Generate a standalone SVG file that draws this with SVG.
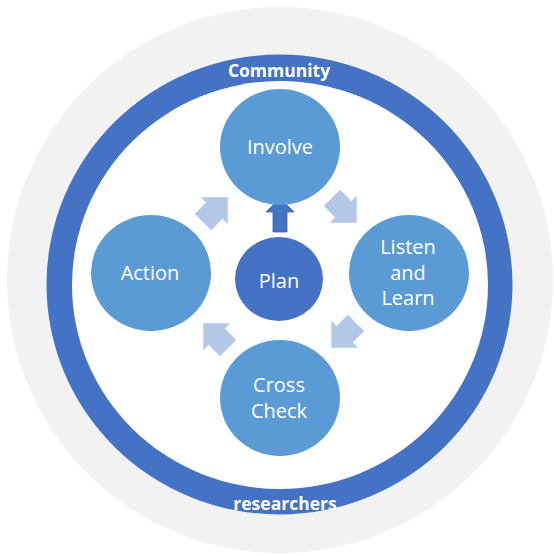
<svg xmlns="http://www.w3.org/2000/svg" width="554" height="556" viewBox="0 0 554 556">
<defs>
<style>
.node{fill:#5B9BD5}
.center{fill:#4472C4}
.lbl{font-family:"Open Sans","Liberation Sans",sans-serif;font-size:20px;fill:#FFFFFF;text-anchor:middle}
.ring{font-family:"Open Sans","Liberation Sans",sans-serif;font-weight:bold;font-size:17.5px;fill:#FFFFFF;text-anchor:middle}
.cyc{fill:#B4C7E7}
</style>
<path id="arr" d="M-17,-11.5 L-1,-11.5 L-1,-19 L18,0 L-1,19 L-1,11.5 L-17,11.5 Z"/>
</defs>
<rect width="554" height="556" fill="#FFFFFF"/>
<g id="background">
<circle cx="280" cy="280" r="273" fill="#F2F2F2"/>
<ellipse cx="279.5" cy="284.5" rx="233" ry="230" fill="#4472C4"/>
<ellipse cx="280" cy="285" rx="208" ry="204" fill="#FFFFFF"/>
<text class="ring" x="279" y="77">Community</text>
<text class="ring" x="285" y="510">researchers</text>
</g>
<g id="connectors">
<use href="#arr" class="cyc" transform="translate(215,210) rotate(-45)"/>
<use href="#arr" class="cyc" transform="translate(344,210) rotate(45)"/>
<use href="#arr" class="cyc" transform="translate(344,335) rotate(135)"/>
<use href="#arr" class="cyc" transform="translate(216,336) rotate(225)"/>
<path d="M273,232 L273,212 L266,212 L280,198 L294,212 L287,212 L287,232 Z" fill="#4472C4" stroke="#3A62AD" stroke-width="0.8"/>
</g>
<g id="involve">
<ellipse class="node" cx="280" cy="147" rx="60" ry="58"/>
<text class="lbl" x="280" y="154">Involve</text>
</g>
<g id="listen">
<ellipse class="node" cx="409" cy="273" rx="60" ry="58"/>
<text class="lbl" x="408" y="254">Listen</text>
<text class="lbl" x="408" y="279.5">and</text>
<text class="lbl" x="408" y="305">Learn</text>
</g>
<g id="crosscheck">
<ellipse class="node" cx="280" cy="398" rx="60" ry="58"/>
<text class="lbl" x="279" y="392">Cross</text>
<text class="lbl" x="279" y="418">Check</text>
</g>
<g id="action">
<ellipse class="node" cx="151" cy="273" rx="60" ry="58"/>
<text class="lbl" x="150" y="280">Action</text>
</g>
<g id="plan">
<ellipse class="center" cx="279" cy="279" rx="44" ry="42"/>
<text class="lbl" x="279" y="288">Plan</text>
</g>
</svg>
